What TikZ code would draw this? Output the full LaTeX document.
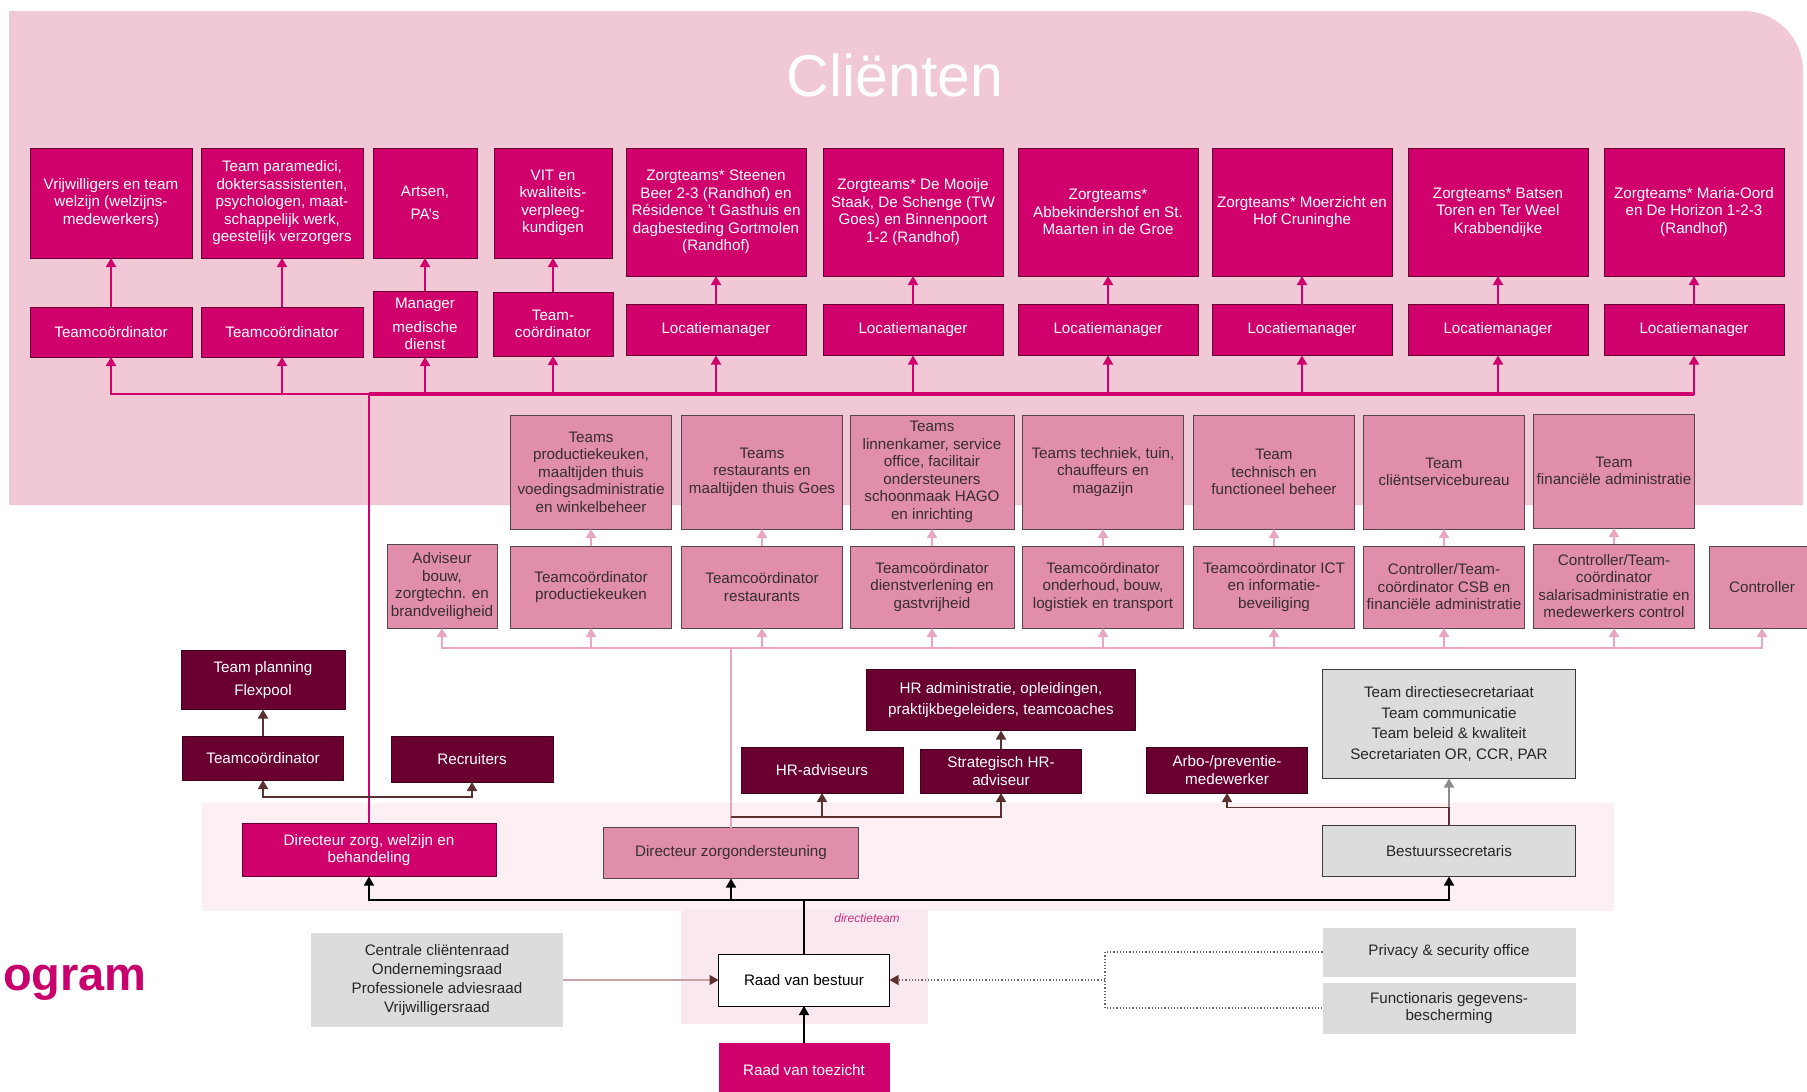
\documentclass[tikz,border=0pt]{standalone}
\usepackage{fontspec}
\setmainfont{Liberation Sans}
\usetikzlibrary{arrows.meta}

\definecolor{clientpink}{RGB}{240,200,214}
\definecolor{bandpink}{RGB}{252,240,245}
\definecolor{teampink}{RGB}{250,232,240}
\definecolor{caremagenta}{RGB}{208,0,108}
\definecolor{carerim}{RGB}{105,0,50}
\definecolor{supportpink}{RGB}{224,142,172}
\definecolor{supportrim}{RGB}{85,70,75}
\definecolor{supporttext}{RGB}{55,45,50}
\definecolor{supportline}{RGB}{233,166,192}
\definecolor{hrmaroon}{RGB}{105,0,48}
\definecolor{hrrim}{RGB}{60,0,25}
\definecolor{hrline}{RGB}{90,48,48}
\definecolor{staffgrey}{RGB}{220,220,220}
\definecolor{staffrim}{RGB}{60,60,60}
\definecolor{councilline}{RGB}{200,160,165}
\definecolor{labelmagenta}{RGB}{200,50,130}
\definecolor{titlemagenta}{RGB}{200,0,110}

\begin{document}
\begin{tikzpicture}[
    x=1pt, y=-1pt,
    >={Triangle[width=10pt,length=9pt]},
    every node/.style={font=\fontsize{15.2}{17.5}\selectfont, align=center, inner sep=1pt, outer sep=0pt},
    box size/.style 2 args={minimum width=#1pt, minimum height=#2pt},
    care box/.style={draw=carerim, line width=1pt, fill=caremagenta, text=white},
    support box/.style={draw=supportrim, line width=1pt, fill=supportpink, text=supporttext},
    hr box/.style={draw=hrrim, line width=1pt, fill=hrmaroon, text=white},
    staff box/.style={draw=staffrim, line width=1pt, fill=staffgrey, text=black!85},
    council box/.style={fill=staffgrey, text=black!85},
    care arrow/.style={->, draw=caremagenta, line width=1.8pt},
    support arrow/.style={->, draw=supportline, line width=1.8pt},
    hr arrow/.style={->, draw=hrline, line width=1.8pt},
    board arrow/.style={->, draw=black, line width=1.6pt}
]
    \useasboundingbox (0,0) rectangle (1807,1092);

    % Background areas
    \fill[clientpink] (9,11) -- (1743,11) arc[start angle=-90, end angle=0, radius=60] -- (1803,505) -- (9,505) -- cycle;
    \fill[bandpink] (202,803) rectangle (1614,911);
    \fill[teampink] (681,909) rectangle (928,1024);
    \node[text=white, font=\fontsize{59}{60}\selectfont] (clienten) at (895,75) {Cliënten};
    \node[text=titlemagenta, font=\fontsize{47}{50}\selectfont\bfseries, anchor=base west, inner sep=0pt] (title) at (3,990) {ogram};

    % Care teams
    \node[care box, box size={162}{110}] (vrijwteam) at (111,203) {Vrijwilligers en team\\welzijn (welzijns-\\medewerkers)};
    \node[care box, box size={162}{110}] (paramed) at (282,203) {Team paramedici,\\doktersassistenten,\\psychologen, maat-\\schappelijk werk,\\geestelijk verzorgers};
    \node[care box, box size={104}{110}] (artsen) at (425,203) {Artsen,\\[6pt]PA's};
    \node[care box, box size={118}{110}] (vitteam) at (553,203) {VIT en\\kwaliteits-\\verpleeg-\\kundigen};
    \node[care box, box size={180}{128}] (zorgsteenen) at (716,212) {Zorgteams* Steenen\\Beer 2-3 (Randhof) en\\Résidence 't Gasthuis en\\dagbesteding Gortmolen\\(Randhof)};
    \node[care box, box size={180}{128}] (zorgmooije) at (913,212) {Zorgteams* De Mooije\\Staak, De Schenge (TW\\Goes) en Binnenpoort\\1-2 (Randhof)};
    \node[care box, box size={180}{128}] (zorgabbe) at (1108,212) {Zorgteams*\\Abbekindershof en St.\\Maarten in de Groe};
    \node[care box, box size={180}{128}] (zorgmoer) at (1302,212) {Zorgteams* Moerzicht en\\Hof Cruninghe};
    \node[care box, box size={180}{128}] (zorgbatsen) at (1498,212) {Zorgteams* Batsen\\Toren en Ter Weel\\Krabbendijke};
    \node[care box, box size={180}{128}] (zorgmaria) at (1694,212) {Zorgteams* Maria-Oord\\en De Horizon 1-2-3\\(Randhof)};

    % Their coordinators and managers
    \node[care box, box size={162}{50}] (tcvrijw) at (111,332) {Teamcoördinator};
    \node[care box, box size={162}{50}] (tcparamed) at (282,332) {Teamcoördinator};
    \node[care box, box size={104}{66}] (manmed) at (425,324) {Manager\\[6pt]medische\\dienst};
    \node[care box, box size={120}{64}] (tcvit) at (553,324) {Team-\\coördinator};
    \foreach \n/\x in {locsteenen/716, locmooije/913, locabbe/1108, locmoer/1302, locbatsen/1498, locmaria/1694}
        \node[care box, box size={180}{51}] (\n) at (\x,330) {Locatiemanager};

    % Support teams
    \node[support box, box size={161}{114}] (teamkeuken) at (591,472) {Teams\\productiekeuken,\\maaltijden thuis\\voedingsadministratie\\en winkelbeheer};
    \node[support box, box size={161}{114}] (teamrest) at (762,472) {Teams\\restaurants en\\maaltijden thuis Goes};
    \node[support box, box size={164}{114}] (teamlinnen) at (932,472) {Teams\\linnenkamer, service\\office, facilitair\\ondersteuners\\schoonmaak HAGO\\en inrichting};
    \node[support box, box size={161}{114}] (teamtechniek) at (1103,472) {Teams techniek, tuin,\\chauffeurs en\\magazijn};
    \node[support box, box size={161}{114}] (teamict) at (1274,472) {Team\\technisch en\\functioneel beheer};
    \node[support box, box size={161}{114}] (teamcsb) at (1444,472) {Team\\cliëntservicebureau};
    \node[support box, box size={161}{114}] (teamfin) at (1614,471) {Team\\financiële administratie};

    \node[support box, box size={110}{84}] (advbouw) at (442,586) {Adviseur\\bouw,\\zorgtechn. en\\brandveiligheid};
    \node[support box, box size={161}{82}] (tckeuken) at (591,587) {Teamcoördinator\\productiekeuken};
    \node[support box, box size={161}{82}] (tcrest) at (762,587) {Teamcoördinator\\restaurants};
    \node[support box, box size={164}{82}] (tcdienst) at (932,587) {Teamcoördinator\\dienstverlening en\\gastvrijheid};
    \node[support box, box size={161}{82}] (tconderhoud) at (1103,587) {Teamcoördinator\\onderhoud, bouw,\\logistiek en transport};
    \node[support box, box size={161}{82}] (tcict) at (1274,587) {Teamcoördinator ICT\\en informatie-\\beveiliging};
    \node[support box, box size={161}{82}] (ctrlcsb) at (1444,587) {Controller/Team-\\coördinator CSB en\\financiële administratie};
    \node[support box, box size={161}{84}] (ctrlsal) at (1614,586) {Controller/Team-\\coördinator\\salarisadministratie en\\medewerkers control};
    \node[support box, box size={106}{82}] (controller) at (1762,587) {Controller};

    % HR
    \node[hr box, box size={164}{59}] (flexpool) at (263,680) {Team planning\\[6pt]Flexpool};
    \node[hr box, box size={161}{44}] (tcplanning) at (263,758) {Teamcoördinator};
    \node[hr box, box size={162}{46}] (recruiters) at (472,759) {Recruiters};
    \node[hr box, box size={269}{61}] (hradmin) at (1001,700) {HR administratie, opleidingen,\\[4pt]praktijkbegeleiders, teamcoaches};
    \node[hr box, box size={162}{46}] (hradviseurs) at (822,770) {HR-adviseurs};
    \node[hr box, box size={161}{44}] (hrstrat) at (1001,771) {Strategisch HR-\\adviseur};
    \node[hr box, box size={161}{46}] (arbo) at (1227,770) {Arbo-/preventie-\\medewerker};

    % Staff
    \node[staff box, box size={253}{109}, font=\fontsize{15.2}{20.5}\selectfont] (dirsecr) at (1449,724) {Team directiesecretariaat\\Team communicatie\\Team beleid \& kwaliteit\\Secretariaten OR, CCR, PAR};
    \node[staff box, box size={253}{51}] (bestsecr) at (1449,851) {Bestuurssecretaris};

    % Directors
    \node[care box, box size={254}{53}] (dirzorg) at (369,850) {Directeur zorg, welzijn en\\behandeling};
    \node[support box, box size={255}{51}] (dirsteun) at (731,853) {Directeur zorgondersteuning};

    % Board and councils
    \node[draw=black, line width=1pt, fill=white, box size={171}{52}] (rvb) at (804,980) {Raad van bestuur};
    \node[fill=caremagenta, text=white, box size={171}{54}] (rvt) at (804,1070) {Raad van toezicht};
    \node[council box, box size={252}{94}, font=\fontsize{15.2}{19}\selectfont] (raden) at (437,980) {Centrale cliëntenraad\\Ondernemingsraad\\Professionele adviesraad\\Vrijwilligersraad};
    \node[council box, box size={253}{49}] (privacy) at (1449,952) {Privacy \& security office};
    \node[council box, box size={253}{51}] (fg) at (1449,1008) {Functionaris gegevens-\\bescherming};
    \node[text=labelmagenta, font=\fontsize{12}{14}\selectfont\itshape] (dtlabel) at (867,918) {directieteam};

    % Care lines
    \coordinate (carebus) at (369,394);
    \draw[caremagenta, line width=2.5pt] (dirzorg.north) -- (carebus);
    \draw[caremagenta, line width=4pt] (carebus) -- (carebus -| locmaria.south);
    \foreach \n in {tcvrijw, tcparamed, manmed, tcvit, locsteenen, locmooije, locabbe, locmoer, locbatsen, locmaria}
        \draw[care arrow] (carebus) -| (\n.south);
    \foreach \a/\b in {tcvrijw/vrijwteam, tcparamed/paramed, manmed/artsen, tcvit/vitteam, locsteenen/zorgsteenen, locmooije/zorgmooije, locabbe/zorgabbe, locmoer/zorgmoer, locbatsen/zorgbatsen, locmaria/zorgmaria}
        \draw[care arrow] (\a.north) -- (\b.south);

    % Support lines
    \coordinate (supportbus) at (731,648);
    \draw[supportline, line width=1.8pt] (dirsteun.north) -- (supportbus);
    \foreach \n in {advbouw, tckeuken, tcrest, tcdienst, tconderhoud, tcict, ctrlcsb, ctrlsal, controller}
        \draw[support arrow] (supportbus) -| (\n.south);
    \foreach \a/\b in {tckeuken/teamkeuken, tcrest/teamrest, tcdienst/teamlinnen, tconderhoud/teamtechniek, tcict/teamict, ctrlcsb/teamcsb, ctrlsal/teamfin}
        \draw[support arrow] (\a.north) -- (\b.south);

    % HR lines
    \coordinate (hrbus) at (731,817);
    \draw[hr arrow] (hrbus) -| (hradviseurs.south);
    \draw[hr arrow] (hrbus) -| (hrstrat.south);
    \draw[hr arrow] (hrstrat.north) -- (hradmin.south);
    \draw[hr arrow] (tcplanning.north) -- (flexpool.south);
    \draw[hr arrow, <->] (tcplanning.south) -- ++(0,17) -| (recruiters.south);

    % Staff lines
    \draw[->, draw=black!45, line width=1.8pt] (bestsecr.north) -- (dirsecr.south);
    \draw[hr arrow] (bestsecr.north) -- ++(0,-18) -| (arbo.south);

    % Board lines
    \coordinate (boardbus) at (804,900);
    \draw[black, line width=1.6pt] (rvb.north) -- (boardbus);
    \foreach \n in {dirzorg, dirsteun, bestsecr}
        \draw[board arrow] (boardbus) -| (\n.south);
    \draw[board arrow] (rvt.north) -- (rvb.south);
    \draw[draw=councilline, line width=1.5pt, -{Triangle[width=10pt,length=9pt,color=hrline]}] (raden.east) -- (rvb.west);
    \coordinate (privjoin) at (1105,980);
    \draw[dotted, line width=1.2pt, draw=black!60] (privacy.west) -| (privjoin) |- (fg.west);
    \draw[dotted, line width=1.2pt, draw=black!60, -{Triangle[width=10pt,length=9pt,color=hrline]}] (privjoin) -- (rvb.east);
\end{tikzpicture}
\end{document}
